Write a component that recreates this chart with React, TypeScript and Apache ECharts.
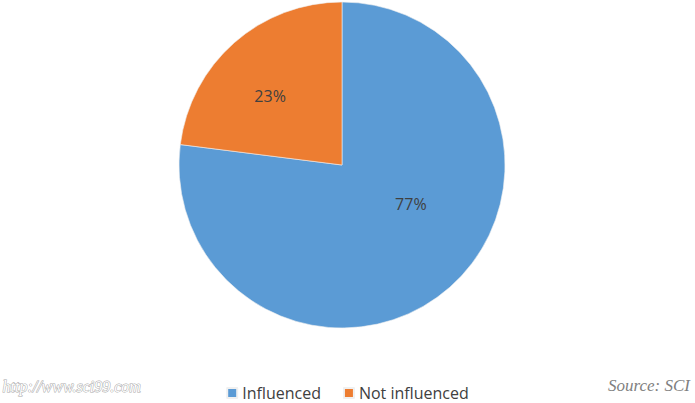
import React, { useEffect, useRef } from "react";
import * as echarts from "echarts";

const categories = ["Influenced", "Not influenced"];
const values = [77, 23];
const colors = ["#5B9BD5", "#ED7D31"];

export default function App() {
  const ref = useRef<HTMLDivElement>(null);
  useEffect(() => {
    document.body.style.margin = "0";
    const chart = echarts.init(ref.current!, null, { renderer: "svg" });
    const labelShift = [
      [13, -24],
      [-16, -6],
    ];
    chart.setOption({
      animation: false,
      backgroundColor: "#ffffff",
      legend: {
        bottom: -3,
        left: "center",
        itemWidth: 10,
        itemHeight: 10,
        itemGap: 22,
        icon: "rect",
        textStyle: { fontFamily: "Open Sans", fontSize: 16, color: "#404040" },
        data: categories,
      },
      series: [
        {
          type: "pie",
          center: [342, 165],
          radius: 163,
          startAngle: 90,
          clockwise: true,
          itemStyle: { borderColor: "#f0f0f0", borderWidth: 0.6 },
          label: {
            show: true,
            position: "inside",
            formatter: "{d}%",
            fontFamily: "Open Sans",
            fontSize: 16,
            color: "#404040",
          },
          labelLayout: (p: any) => ({ dx: labelShift[p.dataIndex][0], dy: labelShift[p.dataIndex][1] }),
          emphasis: { disabled: true },
          data: categories.map((c, i) => ({ name: c, value: values[i], itemStyle: { color: colors[i] } })),
        },
      ],
      graphic: [
        {
          type: "text",
          left: 2,
          top: 378,
          style: {
            text: "http://www.sci99.com",
            fontFamily: "Liberation Serif",
            fontStyle: "italic",
            fontSize: 16,
            fill: "#ffffff",
            stroke: "#a8a8a8",
            lineWidth: 1,
          },
        },
        {
          type: "text",
          right: 5,
          top: 377,
          style: {
            text: "Source: SCI",
            fontFamily: "Liberation Serif",
            fontStyle: "italic",
            fontSize: 17,
            fill: "#7f7f7f",
          },
        },
      ],
    });
    return () => chart.dispose();
  }, []);
  return <div ref={ref} style={{ width: 695, height: 403 }} />;
}
